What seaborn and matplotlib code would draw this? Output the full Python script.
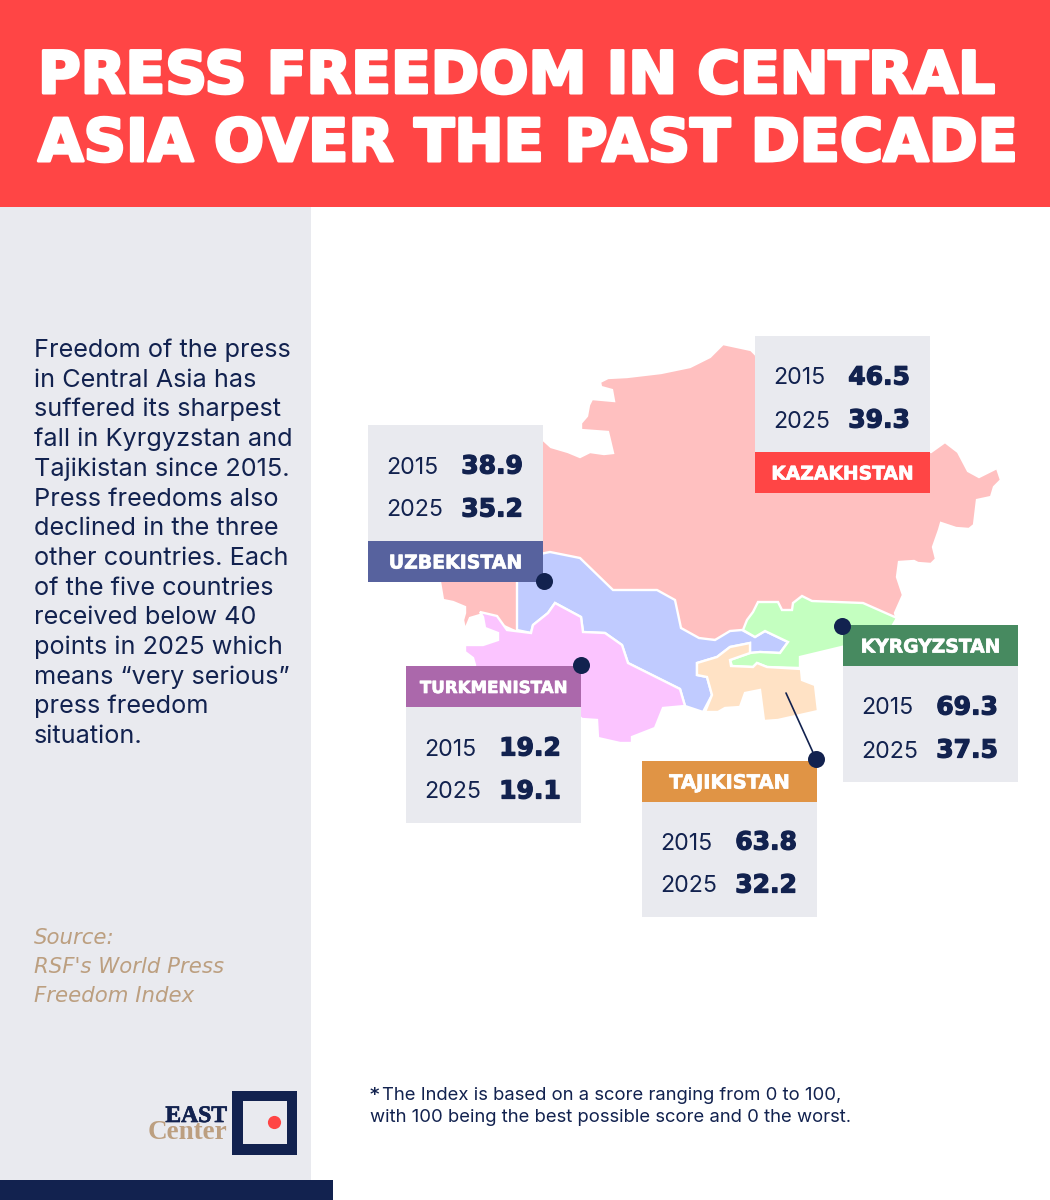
import pandas as pd
import matplotlib
matplotlib.use("Agg")
import matplotlib.pyplot as plt
import matplotlib.patheffects as pe
from matplotlib.patches import Polygon, Rectangle
import seaborn as sns

countries = ["KAZAKHSTAN", "UZBEKISTAN", "TURKMENISTAN", "KYRGYZSTAN", "TAJIKISTAN"]
years = ["2015", "2025"]
score_2015 = [46.5, 38.9, 19.2, 69.3, 63.8]
score_2025 = [39.3, 35.2, 19.1, 37.5, 32.2]

title_lines = ["PRESS FREEDOM IN CENTRAL", "ASIA OVER THE PAST DECADE"]
body_lines = [
    "Freedom of the press", "in Central Asia has", "suffered its sharpest",
    "fall in Kyrgyzstan and", "Tajikistan since 2015.", "Press freedoms also",
    "declined in the three", "other countries. Each", "of the five countries",
    "received below 40", "points in 2025 which", "means \u201cvery serious\u201d",
    "press freedom", "situation.",
]
source_lines = ["Source:", "RSF's World Press", "Freedom Index"]

NAVY = "#12224f"
GREY = "#e9eaef"
RED = "#ff4545"
TAN = "#bc9f80"
BODY_FONT = "Inter"
HEAVY_FONT = "DejaVu Sans"

# map outlines, traced in picture pixels
shapes = {
    "KAZAKHSTAN": [(723,344),(751,350),(756,355),(760,400),(931,452),(945,442),(958,452),(968,471),(979,477),(997,468),(1001,480),(994,487),(991,497),(977,500),(974,525),(969,529),(956,528),(941,523),(939,530),(933,547),(936,559),(931,564),(918,563),(914,561),(899,562),(897,577),(903,595),(895,613),(897,620),(750,640),(700,640),(680,630),(600,620),(517,632),(480,615),(470,618),(465,630),(463,620),(465,613),(465,607),(453,602),(443,600),(440,582),(440,575),(530,560),(540,437),(551,447),(568,452),(580,457),(590,452),(604,454),(613,453),(608,432),(581,430),(581,423),(587,416),(589,405),(592,399),(614,401),(612,390),(601,387),(600,382),(608,378),(627,377),(661,373),(690,367),(710,357)],
    "UZBEKISTAN": [(517,560),(530,556),(550,552),(580,558),(613,590),(657,590),(675,600),(681,628),(699,638),(715,640),(730,631),(742,630),(755,637),(765,631),(788,642),(780,653),(760,652),(750,653),(750,643),(730,647),(717,657),(697,663),(697,675),(707,677),(712,695),(703,712),(685,706),(680,689),(628,663),(622,645),(605,633),(583,632),(581,617),(555,603),(548,613),(533,625),(531,633),(517,630)],
    "TURKMENISTAN": [(480,612),(497,616),(507,630),(531,633),(533,625),(548,613),(555,603),(581,617),(583,632),(605,633),(622,645),(628,663),(680,689),(685,706),(663,708),(655,728),(632,737),(632,743),(620,743),(598,738),(597,720),(582,719),(560,700),(475,680),(475,665),(473,658),(465,652),(465,645),(483,645),(498,640),(498,633),(485,628),(483,617)],
    "KYRGYZSTAN": [(897,618),(863,603),(812,601),(802,596),(793,603),(792,610),(782,610),(778,602),(758,602),(753,612),(747,620),(743,630),(755,637),(765,631),(788,642),(780,653),(760,652),(750,653),(730,660),(732,666),(753,667),(757,663),(767,667),(800,668),(800,657),(850,645),(890,630)],
    "TAJIKISTAN": [(697,663),(717,657),(730,647),(750,643),(750,653),(730,660),(731,666),(753,667),(757,663),(767,667),(801,669),(802,680),(815,685),(818,711),(778,720),(764,721),(760,690),(745,693),(740,707),(725,708),(718,712),(705,712),(712,695),(707,677),(697,675)],
}
fills = ["#ffc0c0", "#c0cbff", "#fbc4ff", "#c4ffc0", "#ffe2c5"]
label_colors = [RED, "#57629e", "#ab68ab", "#478a60", "#e09445"]
label_sizes = [13.5, 13.6, 12, 13.5, 14]
# left edge, label top, grey top
cards = [(755, 452, 336), (368, 541, 425), (406, 666, 707), (843, 625, 666), (642, 761, 801)]
dots = pd.DataFrame({"x": [544, 581, 842, 816], "y": [581, 665, 626, 759]})


def thick(width, color):
    return [pe.withStroke(linewidth=width, foreground=color)]


sns.set_theme(style="white")
plt.rcParams["font.family"] = [BODY_FONT, "DejaVu Sans"]

fig = plt.figure(figsize=(10.5, 12), dpi=100)
ax = fig.add_axes([0, 0, 1, 1])

# page blocks
ax.add_patch(Rectangle((0, 0), 1050, 207, color=RED, lw=0))
ax.add_patch(Rectangle((0, 207), 311, 993, color=GREY, lw=0))
ax.add_patch(Rectangle((0, 1180), 333, 20, color=NAVY, lw=0, zorder=2))

for i, line, size in zip(range(2), title_lines, [41.9, 42.4]):
    ax.text(38, 93 + i * 68, line, color="white", fontsize=size, fontweight="bold",
            family=HEAVY_FONT, path_effects=thick(2.2, "white"))

for i, line in enumerate(body_lines):
    ax.text(34, 357 + i * 29.7, line, color=NAVY, fontsize=18.2)

for i, line in enumerate(source_lines):
    ax.text(34, 944 + i * 29, line, color=TAN, fontsize=15.3, style="italic", family="DejaVu Sans")

# map
for name, fill in zip(countries, fills):
    ax.add_patch(Polygon(shapes[name], closed=True, facecolor=fill, edgecolor="white", lw=1.7, zorder=3))

ax.plot([786, 816], [693, 759], color=NAVY, lw=1.2, zorder=4)

# cards
for name, a, b, col, size, (x, lab_y, grey_y) in zip(countries, score_2015, score_2025, label_colors, label_sizes, cards):
    ax.add_patch(Rectangle((x, grey_y), 175, 115.5, color=GREY, lw=0, zorder=5))
    ax.add_patch(Rectangle((x, lab_y), 175, 40.5, color=col, lw=0, zorder=6))
    ax.text(x + 87.5, lab_y + 20, name, color="white", fontsize=size, fontweight="bold",
            family=HEAVY_FONT, ha="center", va="center_baseline", zorder=7,
            path_effects=thick(0.5, "white"))
    for j, (year, val) in enumerate(zip(years, [a, b])):
        y = grey_y + 40 + j * 43
        ax.text(x + 18.5, y, year, color=NAVY, fontsize=16.7, va="center_baseline", zorder=7)
        ax.text(x + 124, y - 1, f"{val:.1f}", color=NAVY, fontsize=18, fontweight="bold",
                family=HEAVY_FONT, ha="center", va="center_baseline", zorder=7,
                path_effects=thick(0.9, NAVY))

sns.scatterplot(data=dots, x="x", y="y", color=NAVY, s=150, linewidth=0, zorder=8, ax=ax, legend=False)

# footnote
ax.text(370, 1100, "*", color=NAVY, fontsize=13, fontweight="bold", family=HEAVY_FONT)
ax.text(382, 1100, "The Index is based on a score ranging from 0 to 100,", color=NAVY, fontsize=13.3)
ax.text(370, 1122, "with 100 being the best possible score and 0 the worst.", color=NAVY, fontsize=13.3)

# logo
ax.add_patch(Rectangle((232, 1091), 65, 64, color=NAVY, lw=0))
ax.add_patch(Rectangle((243, 1101), 44, 43, color=GREY, lw=0))
sns.scatterplot(x=[274], y=[1122], color=RED, s=90, linewidth=0, ax=ax, legend=False, zorder=4)
ax.text(227, 1122, "EAST", color=NAVY, fontsize=17, fontweight="bold", family="Liberation Serif", ha="right",
        path_effects=thick(0.5, NAVY))
ax.text(227, 1139, "Center", color=TAN, fontsize=19.5, fontweight="bold", family="Liberation Serif", ha="right")

ax.set_xlim(0, 1050)
ax.set_ylim(1200, 0)
ax.axis("off")

fig.savefig("out.png", dpi=100)
